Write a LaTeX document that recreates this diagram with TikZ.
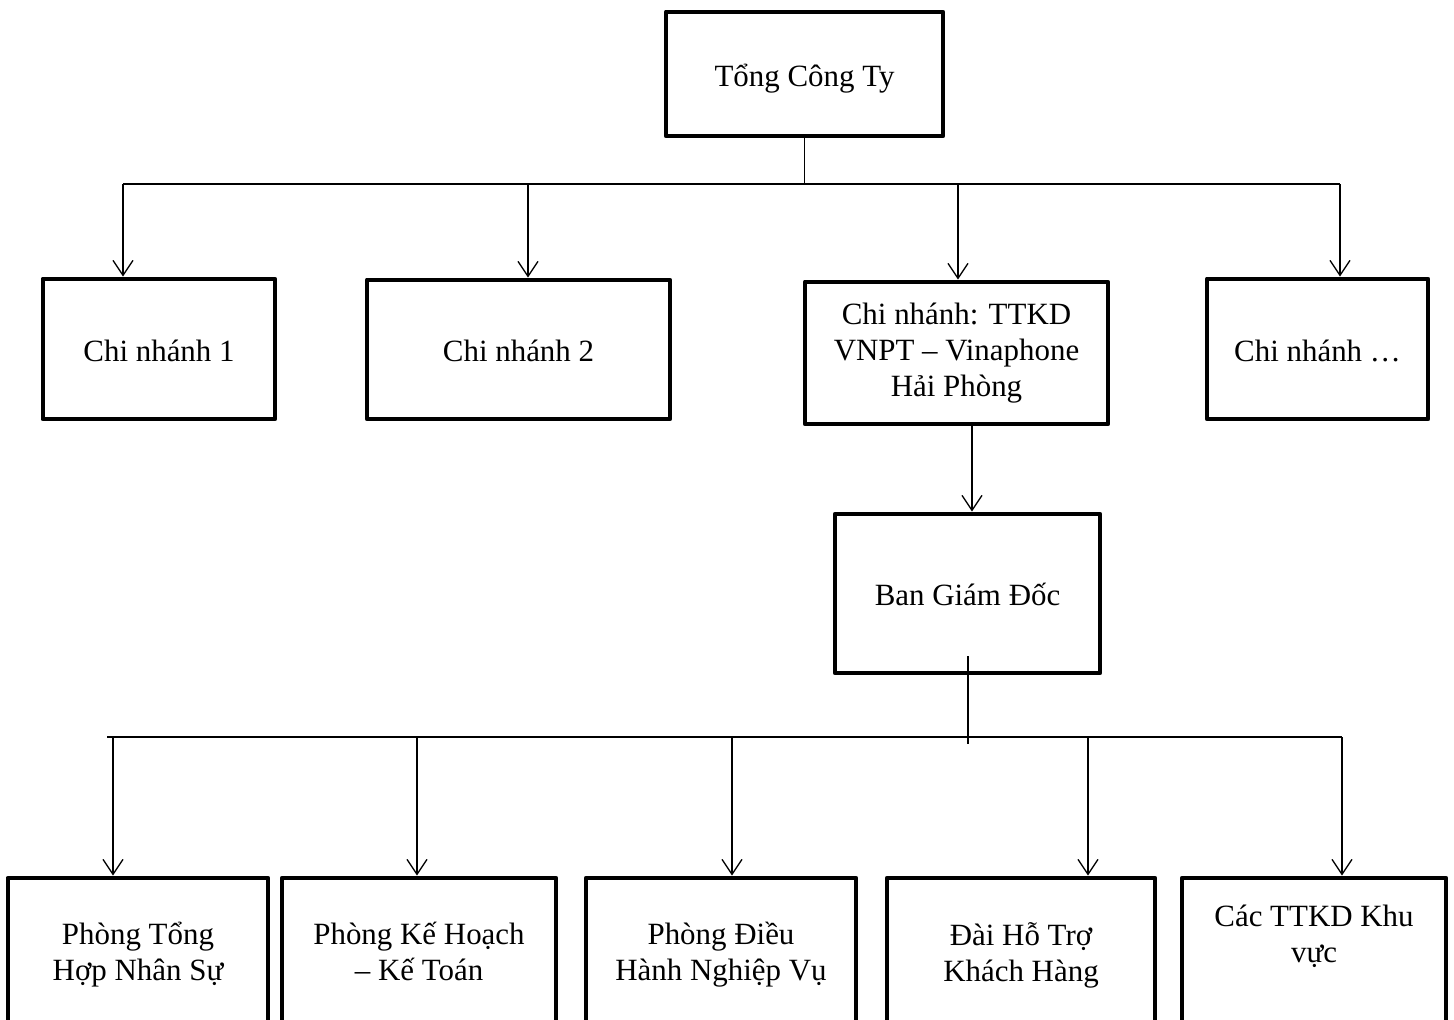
\documentclass[tikz,border=0pt]{standalone}
\usepackage{fontspec}
\setmainfont{Liberation Serif}
\usetikzlibrary{arrows.meta}

\tikzset{
  unit/.style={draw, line width=2.8pt, line join=round, align=center, inner sep=0pt,
    font=\fontsize{17.6pt}{20.5pt}\selectfont},
  oneline/.style={text height=16pt, text depth=2pt},
  arr/.style={line width=0.75pt, -{Straight Barb[length=0.3cm,width=0.4cm,line width=0.75pt]}},
  link/.style={line width=0.75pt}
}

\begin{document}
\begin{tikzpicture}[x=0.02cm, y=-0.02cm]
    % page frame, bottom row runs off the page
    \useasboundingbox (0,0) rectangle (1454,1019);
    \clip (0,0) rectangle (1454,1019);

    % head office and branches
    \node[unit, oneline, minimum width=5.54cm, minimum height=2.48cm] (tong) at (804.5,74) {Tổng Công Ty};
    \node[unit, oneline, minimum width=4.64cm, minimum height=2.8cm] (cn1) at (159,349) {Chi nhánh 1};
    \node[unit, oneline, minimum width=6.06cm, minimum height=2.78cm] (cn2) at (518.5,349.5) {Chi nhánh 2};
    \node[unit, minimum width=6.06cm, minimum height=2.84cm] (cn3) at (956.5,353)
      {Chi nhánh: TTKD\\VNPT – Vinaphone\\Hải Phòng};
    \node[unit, oneline, minimum width=4.42cm, minimum height=2.8cm] (cn4) at (1317.5,349) {Chi nhánh …};

    % board of directors
    \node[unit, oneline, minimum width=5.3cm, minimum height=3.18cm] (gd) at (967.5,593.5) {Ban Giám Đốc};

    % departments
    \node[unit, minimum width=5.2cm, minimum height=3.08cm] (p1) at (138,955) {Phòng Tổng\\Hợp Nhân Sự};
    \node[unit, minimum width=5.48cm, minimum height=3.08cm] (p2) at (419,955) {Phòng Kế Hoạch\\– Kế Toán\vphantom{p}};
    \node[unit, minimum width=5.4cm, minimum height=3.08cm] (p3) at (721,955) {Phòng Điều\\Hành Nghiệp Vụ};
    \node[unit, minimum width=5.36cm, minimum height=3.08cm] (p4) at (1021,955) {Đài Hỗ Trợ\\Khách Hàng};
    \node[unit, minimum width=5.28cm, minimum height=3.08cm] (p5) at (1314,955) {Các TTKD Khu\\vực\\[4pt]~};

    % upper bus
    \coordinate (ua) at (123,184);
    \coordinate (ub) at (1340,184);
    \draw[link] (tong.south) -- (tong.south |- ua);
    \draw[link] (ua) -- (ub);
    \foreach \x/\n in {123/cn1, 528/cn2, 958/cn3, 1340/cn4}{
      \coordinate (d\n) at (\x,184);
      \draw[arr] (d\n) -- (d\n |- \n.north);
    }

    % branch to board
    \coordinate (e0) at (972,422);
    \draw[arr] (e0) -- (e0 |- gd.north);

    % lower bus
    \coordinate (g0) at (968,656);
    \coordinate (g1) at (968,744);
    \draw[link] (g0) -- (g1);
    \coordinate (la) at (107,737);
    \coordinate (lb) at (1342,737);
    \draw[link] (la) -- (lb);
    \foreach \x/\n in {113/p1, 417/p2, 732/p3, 1088/p4, 1342/p5}{
      \coordinate (d\n) at (\x,737);
      \draw[arr] (d\n) -- (d\n |- \n.north);
    }

\end{tikzpicture}
\end{document}
